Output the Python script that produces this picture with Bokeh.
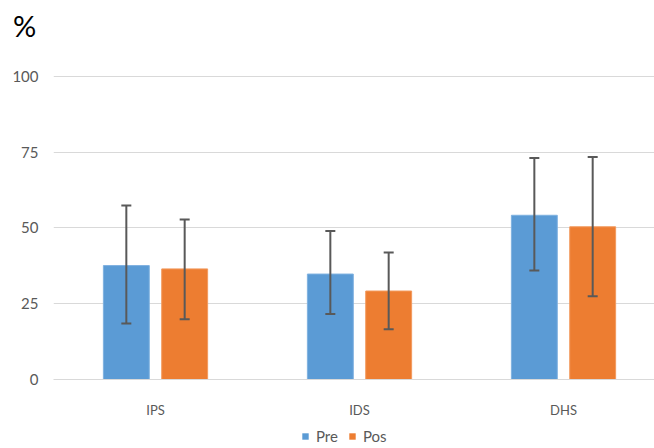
from bokeh.plotting import figure
from bokeh.models import ColumnDataSource, Whisker, TeeHead, Legend, LegendItem, FixedTicker, Div
from bokeh.layouts import column
from bokeh.embed import file_html
from bokeh.resources import INLINE

categories = ["IPS", "IDS", "DHS"]
pre_vals = [37.6, 34.8, 54.2]
pre_low = [18.5, 21.6, 36.0]
pre_high = [57.4, 49.0, 73.1]
pos_vals = [36.5, 29.2, 50.4]
pos_low = [19.9, 16.6, 27.5]
pos_high = [52.8, 41.9, 73.4]
y_ticks = [0, 25, 50, 75, 100]
series_names = ["Pre", "Pos"]
series_colors = ["#5B9BD5", "#ED7D31"]
unit_label = "%"

FONT = "Lato"
GRAY = "#595959"

centers = [i + 0.5 for i in range(len(categories))]
off = 0.143
bw = 0.225

# ---- top strip with the "%" unit label ----
top = Div(text=('<div style="position:absolute;left:13px;top:11px;font-family:Lato;'
                'font-size:29px;line-height:29px;color:#000000;">' + unit_label + '</div>'),
          width=654, height=50, margin=0)

# ---- main chart ----
p = figure(width=654, height=375, output_backend="svg", toolbar_location=None,
           x_range=(0, 2.946), y_range=(0, 100.33),
           min_border_left=53, min_border_right=0, min_border_top=25, min_border_bottom=46)
p.outline_line_color = None

pre_src = ColumnDataSource(dict(x=[c - off for c in centers], top=pre_vals, lo=pre_low, hi=pre_high))
pos_src = ColumnDataSource(dict(x=[c + off for c in centers], top=pos_vals, lo=pos_low, hi=pos_high))

p.vbar(x="x", top="top", width=bw, source=pre_src, fill_color=series_colors[0], line_color="#7fb1e0", line_width=1)
p.vbar(x="x", top="top", width=bw, source=pos_src, fill_color=series_colors[1], line_color="#f29a5e", line_width=1)

for src in (pre_src, pos_src):
    w = Whisker(base="x", lower="lo", upper="hi", source=src, line_color=GRAY, line_width=2,
                level="overlay",
                upper_head=TeeHead(size=10, line_color=GRAY, line_width=2),
                lower_head=TeeHead(size=10, line_color=GRAY, line_width=2))
    p.add_layout(w)

p.xaxis.ticker = FixedTicker(ticks=centers)
p.xaxis.major_label_overrides = {c: cat for c, cat in zip(centers, categories)}
p.xaxis.axis_line_color = "#d9d9d9"
p.xaxis.axis_line_width = 1
p.xaxis.major_tick_line_color = None
p.xaxis.minor_tick_line_color = None
p.xaxis.major_label_text_color = GRAY
p.xaxis.major_label_text_font = FONT
p.xaxis.major_label_text_font_size = "13px"
p.xaxis.major_label_standoff = 16

p.yaxis.ticker = FixedTicker(ticks=y_ticks)
p.yaxis.axis_line_color = None
p.yaxis.major_tick_line_color = None
p.yaxis.minor_tick_line_color = None
p.yaxis.major_label_text_color = GRAY
p.yaxis.major_label_text_font = FONT
p.yaxis.major_label_text_font_size = "15px"
p.yaxis.major_label_standoff = 9

p.xgrid.grid_line_color = None
p.ygrid.ticker = FixedTicker(ticks=y_ticks)
p.ygrid.grid_line_color = "#d9d9d9"
p.ygrid.grid_line_width = 1

# ---- bottom strip with the legend ----
bot = figure(width=654, height=23, output_backend="svg", toolbar_location=None,
             x_range=(0, 1), y_range=(0, 1), x_axis_type=None, y_axis_type=None,
             min_border=0)
bot.outline_line_color = None
bot.xgrid.visible = False
bot.ygrid.visible = False
items = []
for name, col in zip(series_names, series_colors):
    # zero-width swatch renderer: only its colour is used by the legend
    r = bot.vbar(x=[0.5], bottom=[5], top=[6], width=0, fill_color=col, line_color=None)
    items.append(LegendItem(label=name, renderers=[r]))
legend = Legend(items=items, orientation="horizontal", location=(248, 3),
                label_text_font=FONT, label_text_font_size="15px", label_text_color=GRAY,
                glyph_width=8, glyph_height=8, spacing=10, label_standoff=7,
                border_line_color=None, background_fill_alpha=0, padding=0, margin=0)
bot.add_layout(legend)

layout = column(top, p, bot, spacing=0)
open("out.html", "w").write(file_html(layout, INLINE))
